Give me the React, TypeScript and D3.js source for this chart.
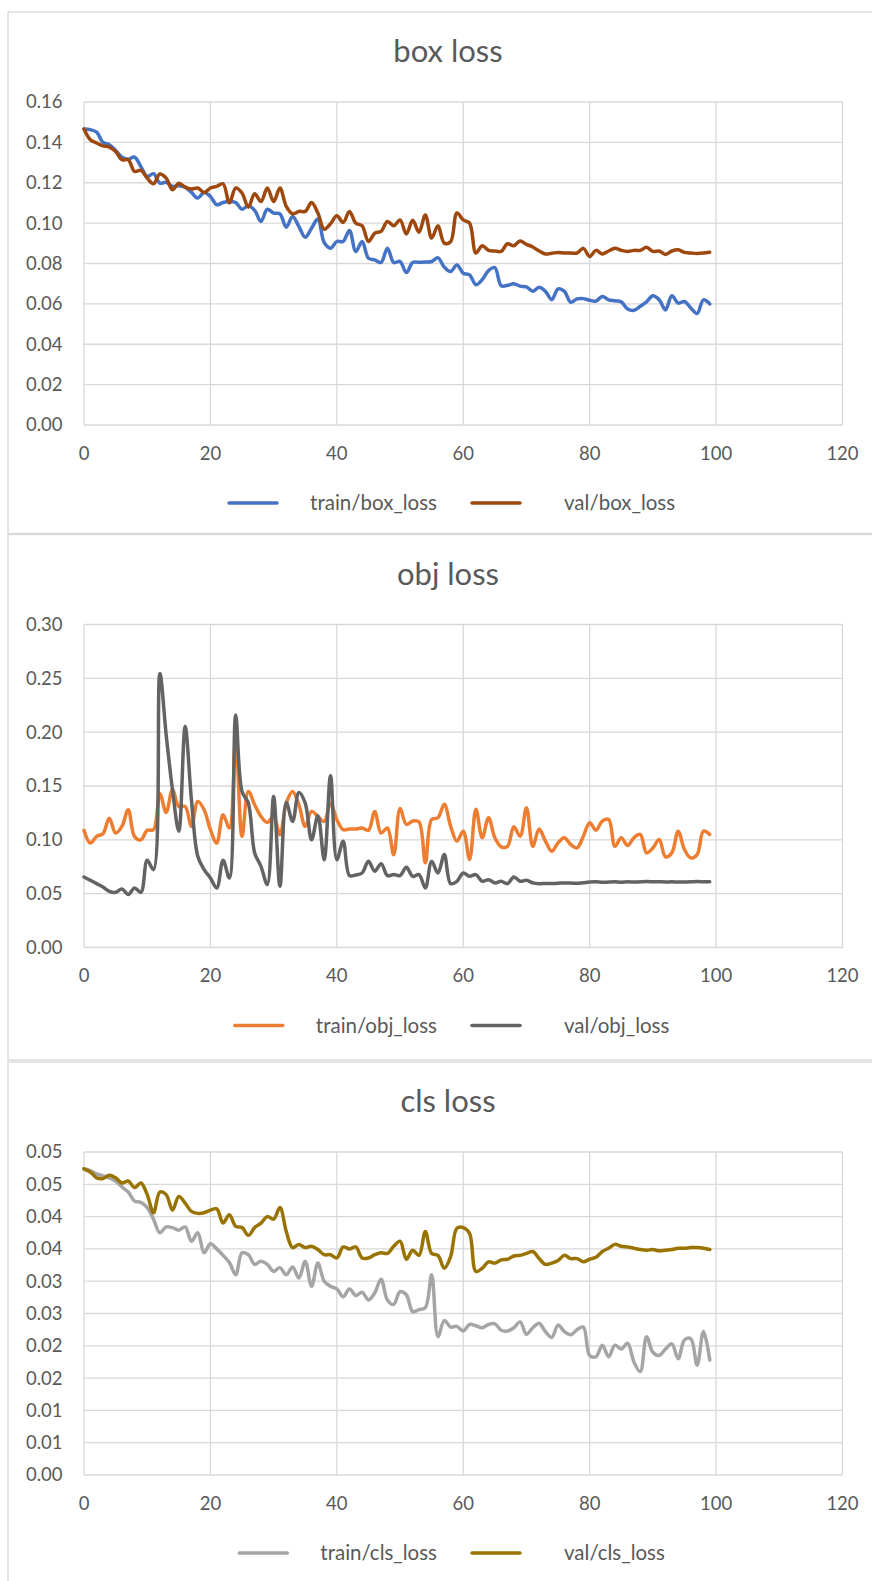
import { useEffect, useRef } from "react";
import * as d3 from "d3";

// ── Data (epoch = array index, 0..99) ─────────────────────────────────────────

const trainBox = [
  0.1466, 0.1463, 0.1451, 0.14, 0.1388, 0.136, 0.1327, 0.1317, 0.1327, 0.128,
  0.1231, 0.1245, 0.1198, 0.1202, 0.1182, 0.1185, 0.1178, 0.1152, 0.1124, 0.1152,
  0.1132, 0.1091, 0.1102, 0.1107, 0.1102, 0.1069, 0.1086, 0.1063, 0.1008, 0.1069,
  0.105, 0.1046, 0.098, 0.1033, 0.0983, 0.093, 0.0975, 0.102, 0.0904, 0.0876,
  0.0909, 0.0909, 0.0964, 0.0859, 0.0909, 0.0826, 0.0818, 0.0805, 0.0876, 0.0805,
  0.081, 0.0755, 0.0805, 0.0806, 0.0807, 0.081, 0.0828, 0.0782, 0.076, 0.0793,
  0.0752, 0.0744, 0.0695, 0.072, 0.0765, 0.078, 0.069, 0.0692, 0.07, 0.0688,
  0.0684, 0.0662, 0.0682, 0.0662, 0.0621, 0.0674, 0.0662, 0.0608, 0.0625, 0.0626,
  0.0618, 0.0614, 0.0637, 0.062, 0.0615, 0.061, 0.0575, 0.0568, 0.0588, 0.061,
  0.064, 0.062, 0.057, 0.064, 0.0604, 0.0612, 0.058, 0.0552, 0.062, 0.06,
];

const valBox = [
  0.1466, 0.1413, 0.1397, 0.1383, 0.1377, 0.1355, 0.1314, 0.1314, 0.1256, 0.1261,
  0.1223, 0.1195, 0.1243, 0.1223, 0.1165, 0.1198, 0.1178, 0.1169, 0.1174, 0.1152,
  0.1174, 0.1182, 0.1195, 0.11, 0.1174, 0.1149, 0.1079, 0.1145, 0.1107, 0.1174,
  0.1107, 0.1174, 0.1083, 0.1046, 0.1058, 0.1058, 0.1102, 0.105, 0.097, 0.0997,
  0.1036, 0.1003, 0.1058, 0.1, 0.0987, 0.0909, 0.095, 0.0959, 0.1008, 0.0987,
  0.1016, 0.0946, 0.1014, 0.0955, 0.104, 0.0926, 0.0987, 0.0901, 0.0908, 0.105,
  0.1016, 0.1, 0.0852, 0.0888, 0.0865, 0.0862, 0.086, 0.0898, 0.0888, 0.0912,
  0.0895, 0.0882, 0.0862, 0.0847, 0.0851, 0.0855, 0.0852, 0.0852, 0.0852, 0.0875,
  0.0835, 0.0865, 0.0847, 0.0862, 0.0875, 0.0865, 0.086, 0.0865, 0.0865, 0.088,
  0.086, 0.0862, 0.0845, 0.0862, 0.0868, 0.0855, 0.0852, 0.085, 0.0852, 0.0856,
];

const trainObj = [
  0.1088, 0.097, 0.1032, 0.1057, 0.12, 0.1063, 0.1125, 0.128, 0.103, 0.1,
  0.1088, 0.1094, 0.1428, 0.1255, 0.1465, 0.131, 0.131, 0.1125, 0.1357, 0.128,
  0.1094, 0.097, 0.1233, 0.111, 0.1928, 0.1032, 0.145, 0.1326, 0.1218, 0.1162,
  0.1218, 0.1048, 0.1341, 0.145, 0.1326, 0.1125, 0.1264, 0.1218, 0.1171, 0.134,
  0.1187, 0.1094, 0.11, 0.11, 0.111, 0.1088, 0.1264, 0.1063, 0.111, 0.0862,
  0.129, 0.1143, 0.1174, 0.1165, 0.0786, 0.119, 0.1205, 0.133, 0.1127, 0.0988,
  0.108, 0.0817, 0.1283, 0.1019, 0.1205, 0.1019, 0.0935, 0.094, 0.1121, 0.1034,
  0.1298, 0.094, 0.11, 0.0988, 0.0894, 0.0972, 0.1019, 0.0956, 0.0925, 0.1034,
  0.1158, 0.109, 0.1174, 0.119, 0.094, 0.1019, 0.0947, 0.1019, 0.105, 0.0879,
  0.0925, 0.1003, 0.0841, 0.0879, 0.108, 0.091, 0.0832, 0.0863, 0.108, 0.105,
];

const valObj = [
  0.0655, 0.0624, 0.0593, 0.0562, 0.0522, 0.0513, 0.0544, 0.0492, 0.0553, 0.0513,
  0.081, 0.0723, 0.2546, 0.1975, 0.1465, 0.1079, 0.2052, 0.1372, 0.0847, 0.0723,
  0.0646, 0.0553, 0.081, 0.0646, 0.216, 0.1449, 0.1341, 0.0878, 0.0754, 0.0584,
  0.1403, 0.0569, 0.1347, 0.1171, 0.144, 0.1341, 0.1, 0.1224, 0.0816, 0.1595,
  0.0816, 0.0986, 0.0668, 0.0674, 0.0692, 0.08, 0.0708, 0.0779, 0.0668, 0.0677,
  0.0668, 0.0745, 0.0661, 0.0677, 0.0553, 0.08, 0.0692, 0.0863, 0.0593, 0.0615,
  0.0692, 0.0661, 0.0677, 0.0615, 0.063, 0.06, 0.0615, 0.0593, 0.0655, 0.0615,
  0.0624, 0.06, 0.0593, 0.0595, 0.0595, 0.0597, 0.06, 0.0598, 0.0596, 0.0602,
  0.0608, 0.061, 0.0605, 0.0608, 0.061, 0.0607, 0.061, 0.0608, 0.061, 0.0612,
  0.0611, 0.061, 0.0609, 0.061, 0.0608, 0.0609, 0.061, 0.0612, 0.0611, 0.061,
];

const trainCls = [
  0.0474, 0.0471, 0.0466, 0.0463, 0.046, 0.0455, 0.0446, 0.0438, 0.0424, 0.0422,
  0.0414, 0.0396, 0.0375, 0.0384, 0.0383, 0.0379, 0.0384, 0.0362, 0.0375, 0.0344,
  0.0358, 0.035, 0.034, 0.0329, 0.031, 0.0344, 0.0341, 0.0326, 0.0331, 0.0326,
  0.0315, 0.0321, 0.031, 0.0322, 0.0305, 0.0331, 0.0292, 0.0328, 0.03, 0.0292,
  0.0288, 0.0276, 0.0288, 0.0278, 0.0283, 0.0271, 0.0282, 0.0303, 0.0271, 0.0264,
  0.0284, 0.0279, 0.0253, 0.0256, 0.0259, 0.031, 0.0214, 0.0239, 0.0229, 0.023,
  0.0223, 0.0233, 0.0231, 0.0228, 0.0233, 0.0234, 0.0224, 0.0223, 0.0228, 0.0237,
  0.0218, 0.0228, 0.0235, 0.0222, 0.0213, 0.0232, 0.0222, 0.0217, 0.0225, 0.0229,
  0.0185, 0.0183, 0.0201, 0.0183, 0.0201, 0.0195, 0.0204, 0.0175, 0.016, 0.0214,
  0.019, 0.0185, 0.0195, 0.0203, 0.018, 0.0209, 0.0211, 0.017, 0.0222, 0.0178,
];

const valCls = [
  0.0474, 0.0469, 0.046, 0.0459, 0.0464, 0.046, 0.0452, 0.0455, 0.0445, 0.0452,
  0.0434, 0.0406, 0.0438, 0.0434, 0.041, 0.0431, 0.0421, 0.0408, 0.0405, 0.0406,
  0.041, 0.0412, 0.039, 0.0403, 0.0385, 0.0383, 0.0371, 0.0383, 0.039, 0.04,
  0.0396, 0.0414, 0.0377, 0.0352, 0.0357, 0.0352, 0.0354, 0.0349, 0.0341, 0.0341,
  0.0336, 0.0353, 0.035, 0.0353, 0.0336, 0.0336, 0.0341, 0.0344, 0.0343, 0.0354,
  0.0362, 0.0334, 0.0348, 0.034, 0.0377, 0.0343, 0.034, 0.032, 0.0338, 0.0382,
  0.0383, 0.0374, 0.0315, 0.032, 0.033, 0.0328, 0.0333, 0.0334, 0.0339, 0.034,
  0.0343, 0.0346, 0.0335, 0.0326, 0.0328, 0.0332, 0.034, 0.0335, 0.0335, 0.033,
  0.0334, 0.0337, 0.0346, 0.0351, 0.0357, 0.0354, 0.0353, 0.0351, 0.0349, 0.0348,
  0.0349, 0.0347, 0.0348, 0.0349, 0.0351, 0.0351, 0.0352, 0.0352, 0.0351, 0.0349,
];

const xTicks = [0, 20, 40, 60, 80, 100, 120];

const boxTicks = [0, 0.02, 0.04, 0.06, 0.08, 0.1, 0.12, 0.14, 0.16];
const boxTickLabels = ["0.00", "0.02", "0.04", "0.06", "0.08", "0.10", "0.12", "0.14", "0.16"];

const objTicks = [0, 0.05, 0.1, 0.15, 0.2, 0.25, 0.3];
const objTickLabels = ["0.00", "0.05", "0.10", "0.15", "0.20", "0.25", "0.30"];

// Excel rounds the 0.005 steps to two decimals, hence the repeated labels
const clsTicks = [0, 0.005, 0.01, 0.015, 0.02, 0.025, 0.03, 0.035, 0.04, 0.045, 0.05];
const clsTickLabels = ["0.00", "0.01", "0.01", "0.02", "0.02", "0.03", "0.03", "0.04", "0.04", "0.05", "0.05"];

const panels = [
  {
    title: "box loss", top: 12, height: 521.5,
    ticks: boxTicks, tickLabels: boxTickLabels,
    series: [
      { name: "train/box_loss", values: trainBox, color: "#4472C4" },
      { name: "val/box_loss", values: valBox, color: "#9E480E" },
    ],
  },
  {
    title: "obj loss", top: 534.5, height: 525.5,
    ticks: objTicks, tickLabels: objTickLabels,
    series: [
      { name: "train/obj_loss", values: trainObj, color: "#ED7D31" },
      { name: "val/obj_loss", values: valObj, color: "#636363" },
    ],
  },
  {
    title: "cls loss", top: 1062, height: 600,
    ticks: clsTicks, tickLabels: clsTickLabels,
    series: [
      { name: "train/cls_loss", values: trainCls, color: "#A5A5A5" },
      { name: "val/cls_loss", values: valCls, color: "#997300" },
    ],
  },
];

const W = 872;
const H = 1581;
const FONT = "Lato, 'Open Sans', sans-serif";
const TEXT = "#595959";
const GRID = "#D9D9D9";

export default function App() {
  const svgRef = useRef<SVGSVGElement>(null);

  useEffect(() => {
    if (!svgRef.current) return;
    const svg = d3.select(svgRef.current);
    svg.selectAll("*").remove();

    const plotLeft = 84;
    const plotRight = 842.5;

    panels.forEach((p) => {
      const g = svg.append("g");
      const plotTop = p.top + 90;
      const plotBottom = plotTop + 323;

      // chart frame
      g.append("rect")
        .attr("x", 8).attr("y", p.top)
        .attr("width", 1000).attr("height", p.height)
        .attr("fill", "#fff")
        .attr("stroke", GRID).attr("stroke-width", 1.4);

      g.append("text")
        .attr("x", 448).attr("y", p.top + 50)
        .attr("text-anchor", "middle")
        .attr("font-family", FONT).attr("font-size", 31)
        .attr("fill", TEXT)
        .text(p.title);

      const x = d3.scaleLinear().domain([0, 120]).range([plotLeft, plotRight]);
      const y = d3.scaleLinear()
        .domain([0, p.ticks[p.ticks.length - 1]])
        .range([plotBottom, plotTop]);

      // ── Grid ──
      g.append("g").selectAll("line")
        .data(p.ticks)
        .join("line")
        .attr("x1", plotLeft).attr("x2", plotRight)
        .attr("y1", (d) => y(d)).attr("y2", (d) => y(d))
        .attr("stroke", GRID).attr("stroke-width", 1.3);

      g.append("g").selectAll("line")
        .data(xTicks)
        .join("line")
        .attr("x1", (d) => x(d)).attr("x2", (d) => x(d))
        .attr("y1", plotTop).attr("y2", plotBottom)
        .attr("stroke", GRID).attr("stroke-width", 1.3);

      // ── Tick labels ──
      g.append("g").selectAll("text")
        .data(p.ticks)
        .join("text")
        .attr("x", 62.5).attr("y", (d) => y(d))
        .attr("dy", "0.35em")
        .attr("text-anchor", "end")
        .attr("font-family", FONT).attr("font-size", 18.5)
        .attr("fill", TEXT)
        .text((_, i) => p.tickLabels[i]);

      g.append("g").selectAll("text")
        .data(xTicks)
        .join("text")
        .attr("x", (d) => x(d)).attr("y", plotBottom + 28.5)
        .attr("dy", "0.35em")
        .attr("text-anchor", "middle")
        .attr("font-family", FONT).attr("font-size", 18.5)
        .attr("fill", TEXT)
        .text((d) => String(d));

      // ── Series ──
      const line = d3.line<number>()
        .x((_, i) => x(i))
        .y((d) => y(d))
        .curve(d3.curveCatmullRom.alpha(0.5));

      p.series.forEach((s) => {
        g.append("path").datum(s.values)
          .attr("fill", "none")
          .attr("stroke", s.color)
          .attr("stroke-width", 3.5)
          .attr("stroke-linejoin", "round")
          .attr("stroke-linecap", "round")
          .attr("d", line);
      });

      // ── Legend ──
      const cx = 451;
      const ly = p.top + 491;
      const t1 = g.append("text")
        .attr("x", cx - 14).attr("y", ly)
        .attr("dy", "0.35em")
        .attr("text-anchor", "end")
        .attr("font-family", FONT).attr("font-size", 20.5)
        .attr("fill", TEXT)
        .text(p.series[0].name);
      const w1 = (t1.node() as SVGTextElement).getComputedTextLength();
      const l1End = cx - 14 - w1 - 33;

      g.append("line")
        .attr("x1", l1End - 48).attr("x2", l1End)
        .attr("y1", ly).attr("y2", ly)
        .attr("stroke", p.series[0].color)
        .attr("stroke-width", 3.5).attr("stroke-linecap", "round");

      g.append("line")
        .attr("x1", cx + 21).attr("x2", cx + 69)
        .attr("y1", ly).attr("y2", ly)
        .attr("stroke", p.series[1].color)
        .attr("stroke-width", 3.5).attr("stroke-linecap", "round");

      g.append("text")
        .attr("x", cx + 113).attr("y", ly)
        .attr("dy", "0.35em")
        .attr("font-family", FONT).attr("font-size", 20.5)
        .attr("fill", TEXT)
        .text(p.series[1].name);
    });
  }, []);

  return (
    <div style={{ position: "absolute", left: 0, top: 0, width: W, height: H, overflow: "hidden", background: "#fff" }}>
      <svg ref={svgRef} width={W} height={H} style={{ display: "block" }} />
    </div>
  );
}
